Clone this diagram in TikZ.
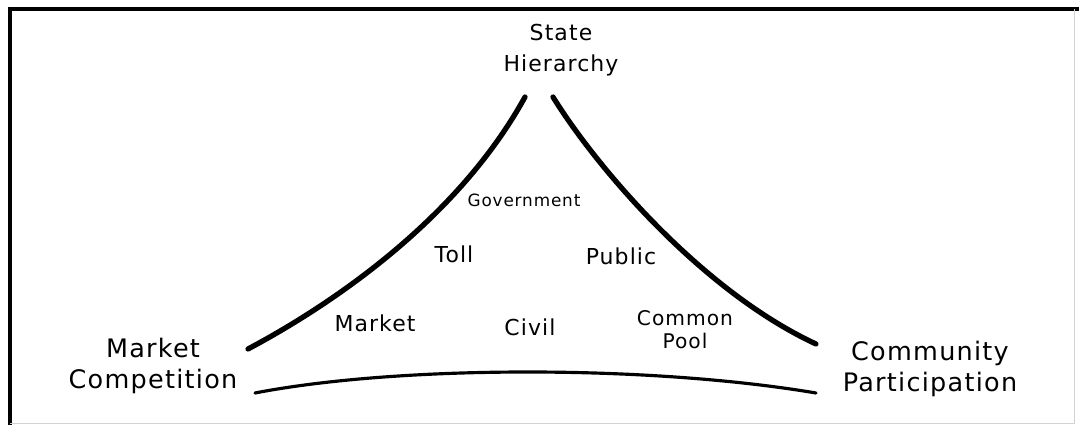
\documentclass[tikz,border=0pt]{standalone}
\usepackage{fontspec}
\setmainfont{DejaVu Sans}[LetterSpace=5]
\usetikzlibrary{positioning}
\tikzset{>=latex}
\tikzset{corner/.style={align=center, inner sep=1pt, font=\fontsize{14.5}{18}\selectfont}}
\tikzset{good/.style={align=center, inner sep=1pt, font=\fontsize{12.5}{13}\selectfont}}
\tikzset{side/.style={line width=3pt, line cap=round}}

\begin{document}
\begin{tikzpicture}[x=0.02cm,y=-0.02cm]
  \useasboundingbox (0,0) rectangle (1079,425);
  % frame
  \draw[line width=1.8pt] (10,425) -- (10,9) -- (1079,9);
  \draw[gray!35, thin] (1074,9) -- (1074,423) -- (10,423);
  % the three sides
  \draw[side] (248,349) .. controls (340,300) and (460,215) .. (525,97);
  \draw[side] (553,97) .. controls (595,165) and (700,290) .. (816,344);
  \draw[line width=1.8pt, line cap=round] (255,393) .. controls (400,365) and (650,365) .. (816,393);
  % corners
  \node[corner, font=\fontsize{12.5}{18}\selectfont] (state) at (561,50) {State\\Hierarchy};
  \node[corner] (market) at (153,366) {Market\\Competition};
  \node[corner] (community) at (930,369) {Community\\Participation};
  % kinds of goods
  \node[good, font=\fontsize{9.6}{12}\selectfont] (gov) at (524,200) {Government};
  \node[good] (toll) at (454,254) {Toll};
  \node[good] (public) at (621,256) {Public};
  \node[good] (mkt) at (375,323) {Market};
  \node[good] (civil) at (530,327) {Civil};
  \node[good, font=\fontsize{11.5}{13}\selectfont] (pool) at (685,330) {Common\\Pool};
\end{tikzpicture}
\end{document}
